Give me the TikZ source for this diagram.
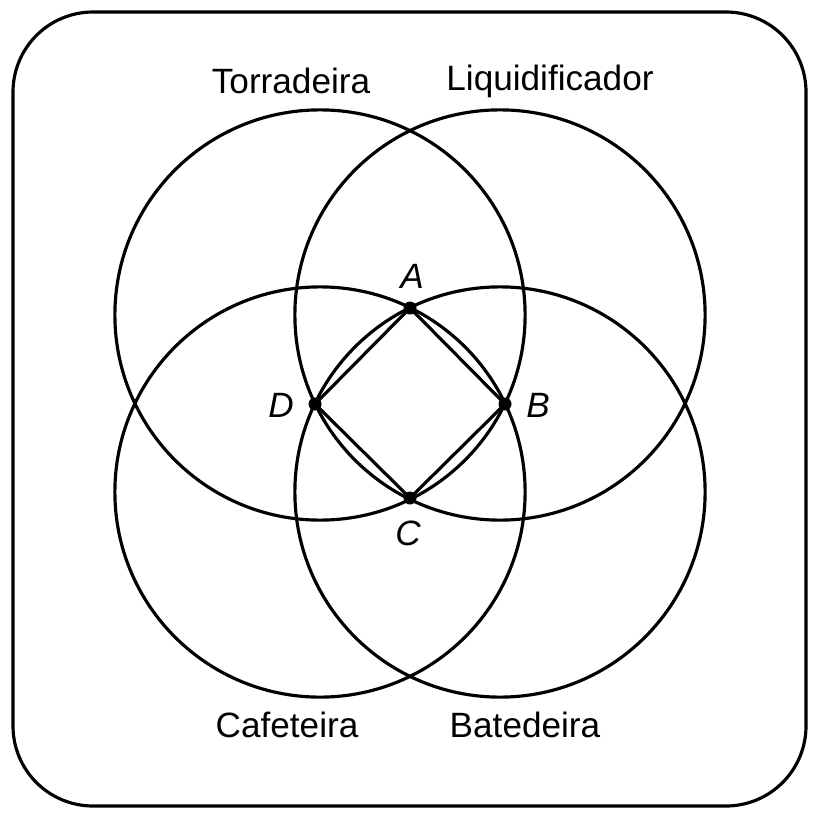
\documentclass[tikz,border=0pt]{standalone}
\usepackage{fontspec}
\setmainfont{Liberation Sans}
\begin{document}
\begin{tikzpicture}[x=0.01cm,y=-0.01cm,line width=0.9pt,
  lab/.style={font=\fontsize{10}{12}\selectfont},
  pt/.style={font=\fontsize{10}{12}\selectfont\itshape},
  dot/.style={circle,fill=black,inner sep=0pt,minimum size=0.13cm}]
\useasboundingbox (0,0) rectangle (818,818);
\draw[rounded corners=0.8cm] (13,12) rectangle (806,806);
\draw (320,315) circle[radius=2.05cm];
\draw (500,315) circle[radius=2.05cm];
\draw (320,492) circle[radius=2.05cm];
\draw (500,492) circle[radius=2.05cm];
\node[dot] (A) at (410,308) {};
\node[dot] (B) at (505,404) {};
\node[dot] (C) at (410,498) {};
\node[dot] (D) at (315,404) {};
\draw (A.center) -- (B.center) -- (C.center) -- (D.center) -- cycle;
\node[pt] (lA) at (412,276) {A};
\node[pt] (lB) at (538,405) {B};
\node[pt] (lC) at (408,533) {C};
\node[pt] (lD) at (281,405) {D};
\node[lab] (t) at (291,81) {Torradeira};
\node[lab] (l) at (550,81) {Liquidificador};
\node[lab] (c) at (287,725) {Cafeteira};
\node[lab] (b) at (525,725) {Batedeira};
\end{tikzpicture}
\end{document}
